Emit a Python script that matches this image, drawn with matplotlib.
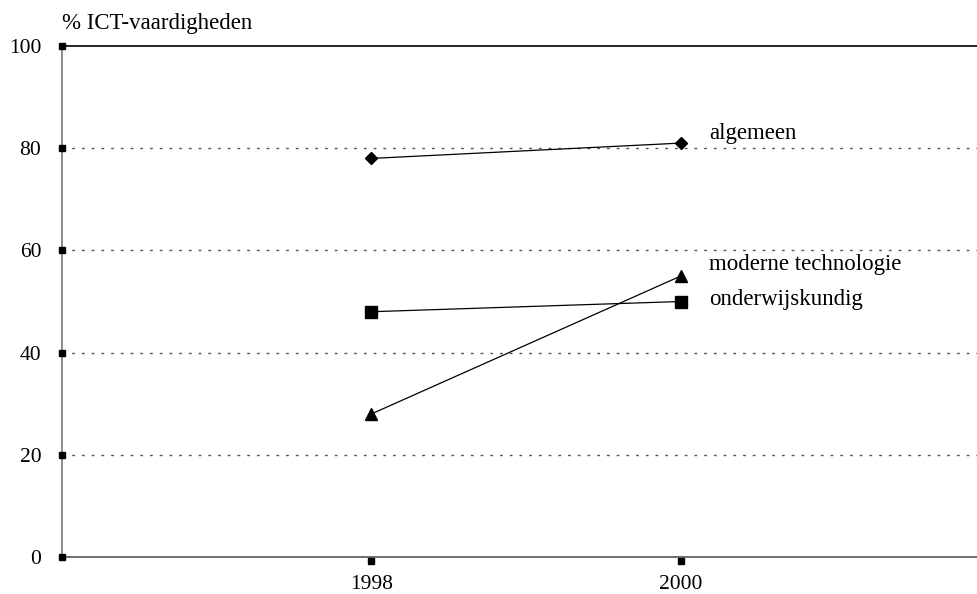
import matplotlib
matplotlib.use("Agg")
import matplotlib.pyplot as plt

years = [1998, 2000]
algemeen = [78, 81]
onderwijskundig = [48, 50]
moderne_technologie = [28, 55]
y_ticks = [0, 20, 40, 60, 80, 100]
series_labels = ["algemeen", "moderne technologie", "onderwijskundig"]

plt.rcParams["font.family"] = ["Liberation Serif", "DejaVu Serif"]

fig = plt.figure(figsize=(9.78, 5.94), dpi=100)
ax = fig.add_axes([62 / 978, 1 - 557 / 594, 1 - 62 / 978, (557 - 46) / 594])
ax.set_xlim(1996, 2001.92)
ax.set_ylim(0, 100)

# dotted horizontal gridlines
for v in y_ticks[1:-1]:
    ax.axhline(v, color="#555555", lw=1, ls=(0, (2, 5)), zorder=1)
ax.axhline(100, color="black", lw=1.2, zorder=2, clip_on=False)

ax.plot(years, algemeen, color="black", lw=0.9, marker="D", ms=6.5, zorder=3)
ax.plot(years, onderwijskundig, color="black", lw=0.9, marker="s", ms=8, zorder=3)
ax.plot(years, moderne_technologie, color="black", lw=0.9, marker="^", ms=8, zorder=3)

# series labels to the right of the last points
label_y = {"algemeen": 82.8, "moderne technologie": 57.3, "onderwijskundig": 50.4}
for name in series_labels:
    ax.text(years[-1] + 0.18, label_y[name], name, fontsize=16.5, va="center", ha="left")

for s in ["top", "right"]:
    ax.spines[s].set_visible(False)
ax.spines["left"].set_color("#777777")
ax.spines["bottom"].set_color("#555555")
ax.spines["left"].set_linewidth(1.2)
ax.spines["bottom"].set_linewidth(1.2)

ax.set_yticks(y_ticks)
ax.set_yticklabels([str(v) for v in y_ticks], fontsize=15.5)
ax.set_xticks(years)
ax.set_xticklabels([str(y) for y in years], fontsize=15.5)
ax.tick_params(axis="y", length=0, pad=15)
ax.tick_params(axis="x", length=0, pad=13)

# square tick markers
for v in y_ticks:
    ax.plot([1996], [v], marker="s", ms=5, color="black", clip_on=False, zorder=4)
for y in years:
    ax.plot([y], [-0.8], marker="s", ms=5, color="black", clip_on=False, zorder=4)

fig.text(62 / 978, 1 - 24 / 594, "% ICT-vaardigheden", fontsize=16.5, ha="left", va="center")

fig.savefig("out.png", dpi=100)
